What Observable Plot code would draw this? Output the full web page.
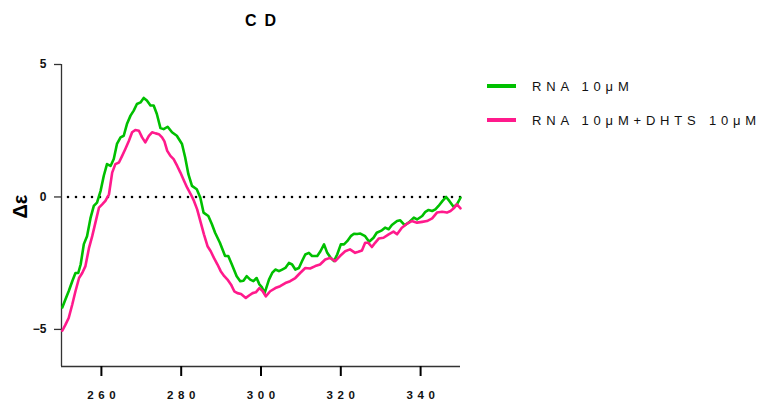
<!DOCTYPE html>
<html>
<head>
<meta charset="utf-8">
<script src="https://cdn.jsdelivr.net/npm/d3@7"></script>
<script src="https://cdn.jsdelivr.net/npm/@observablehq/plot@0.6"></script>
<style>
  html, body { margin: 0; padding: 0; background: #fff; }
  #wrap { position: relative; width: 760px; font-family: "Liberation Sans", Arial, sans-serif; }
  #title { position: absolute; z-index: 2; left: 0; width: 521px; top: 12px; text-align: center; font-weight: bold; font-size: 16px; letter-spacing: 8px; text-indent: 8px; color: #000; }
  .leg { position: absolute; z-index: 2; left: 487px; font-size: 13px; letter-spacing: 4.8px; color: #111; white-space: nowrap; }
  .leg .sw { position: absolute; left: 0; width: 29px; height: 3.5px; }
  .leg .tx { position: absolute; left: 45px; }
</style>
</head>
<body>
<div id="wrap"></div>
<script>
const seriesNames = ["RNA 10\u03bcM", "RNA 10\u03bcM+DHTS 10\u03bcM"];
const seriesColors = ["#00c000", "#ff1a8c"];
const xTicks = [260, 280, 300, 320, 340];
const yTicks = [-5, 0, 5];
const yLabel = "\u0394\u03b5";
const titleText = "CD";

const greenWl = [250.2,251,251.8,252.7,253.5,254.2,254.8,255.6,256.4,257.3,258.1,258.9,259.8,260.6,261.4,262.3,263.1,263.9,264.8,265.6,266.4,267.3,268.1,268.9,269.8,270.6,271.4,272.3,273.1,273.9,274.8,275.6,276.6,277.7,278.9,280.2,281,281.8,282.7,283.9,284.8,285.6,286.8,287.7,288.5,289.7,291,291.8,292.7,293.9,294.8,295.6,296.4,297.3,298.1,298.9,299.6,300.2,300.9,302,302.8,303.6,304.5,305.3,306.1,307,307.8,308.6,309.5,310.3,311.1,312,312.8,314.1,314.9,315.8,316.6,317.5,318.3,319.1,320,320.8,321.6,322.5,323.3,324.1,324.9,326.1,327.1,328.2,329,330.3,331.1,332,332.8,334.1,334.9,336,337,338.3,339.1,340.4,341.2,342,342.9,343.7,344.5,345.5,346.4,347.2,348.3,349.1,350];
const greenVal = [-4.17,-3.86,-3.56,-3.18,-2.87,-2.87,-2.55,-1.78,-1.48,-0.78,-0.34,-0.21,0.23,0.80,1.24,1.17,1.43,2.0,2.25,2.31,2.75,3.07,3.26,3.51,3.57,3.74,3.64,3.45,3.45,3.13,2.60,2.56,2.65,2.44,2.31,2.0,1.49,0.86,0.42,0.29,-0.03,-0.59,-0.72,-1.03,-1.35,-1.73,-2.23,-2.23,-2.55,-2.99,-3.18,-3.16,-2.99,-3.12,-3.18,-3.06,-3.30,-3.40,-3.63,-3.12,-2.87,-2.74,-2.80,-2.74,-2.68,-2.49,-2.55,-2.74,-2.68,-2.42,-2.17,-2.11,-2.23,-2.23,-2.05,-1.79,-2.11,-2.30,-2.42,-2.17,-1.79,-1.79,-1.67,-1.48,-1.39,-1.40,-1.38,-1.48,-1.69,-1.54,-1.35,-1.26,-1.16,-1.22,-1.06,-0.91,-0.88,-1.06,-0.97,-0.78,-0.85,-0.72,-0.56,-0.49,-0.53,-0.47,-0.34,-0.15,0.0,-0.15,-0.38,-0.28,-0.03];

const pinkWl = [250.2,251,251.8,252.7,253.5,254.4,255.2,256,256.9,257.7,258.5,259.4,260.2,261,261.9,262.7,263.5,264.4,265.2,266,266.9,267.7,268.5,269.4,270.2,271,271.9,272.7,273.6,274.4,275.2,275.8,276.5,277.3,278.1,279,279.8,280.7,281.5,282.4,283.2,284,284.9,285.7,286.6,287.4,288.2,289.1,289.9,290.8,291.6,292.5,293.3,294.1,295,296.2,297.1,297.9,298.7,299.6,300.4,301.2,302.3,303.6,304.8,306.1,307.3,308.6,309.8,311.1,312.3,313.6,314.8,316.1,317.3,318.6,319.8,321.1,322.3,323.6,324.4,325.3,326.1,326.9,327.8,328.6,329.5,330.7,332,333.2,334.1,335.3,336.6,337.8,339.1,340.4,341.6,342.9,344.1,345.4,346.6,347.5,348.3,349.1,350];
const pinkVal = [-5.05,-4.82,-4.57,-4.06,-3.56,-3.06,-2.87,-2.61,-1.92,-1.48,-0.97,-0.40,-0.28,-0.15,0.10,0.92,1.24,1.30,1.55,1.81,2.12,2.44,2.53,2.50,2.25,2.06,2.31,2.44,2.40,2.37,2.25,2.10,1.74,1.55,1.43,1.17,0.92,0.61,0.35,0.10,-0.15,-0.47,-0.97,-1.41,-1.86,-2.05,-2.30,-2.55,-2.80,-2.99,-3.12,-3.31,-3.56,-3.63,-3.66,-3.81,-3.71,-3.63,-3.60,-3.44,-3.55,-3.75,-3.56,-3.44,-3.37,-3.25,-3.18,-3.06,-2.87,-2.68,-2.70,-2.61,-2.55,-2.36,-2.30,-2.42,-2.23,-2.05,-1.98,-2.11,-2.07,-2.02,-1.73,-1.73,-1.89,-1.73,-1.57,-1.54,-1.41,-1.31,-1.41,-1.16,-1.01,-0.91,-0.97,-0.94,-0.91,-0.81,-0.59,-0.56,-0.59,-0.53,-0.43,-0.28,-0.43];

const green = greenWl.map((w, i) => ({wl: w, v: greenVal[i]}));
const pink = pinkWl.map((w, i) => ({wl: w, v: pinkVal[i]}));

const yDomain = [-6.4, 5];

const chart = Plot.plot({
  width: 760,
  height: 403,
  marginLeft: 61,
  marginRight: 300,
  marginTop: 64,
  marginBottom: 37,
  style: { fontFamily: "'Liberation Sans', Arial, sans-serif" },
  x: { domain: [250, 350] },
  y: { domain: yDomain },
  marks: [
    Plot.ruleX([250], { stroke: "#333", strokeWidth: 1.3 }),
    Plot.ruleY([yDomain[0]], { stroke: "#333", strokeWidth: 1.3 }),
    Plot.axisX({ ticks: xTicks, tickSize: 10, tickPadding: 14, label: null, fontSize: 11.5, fontWeight: "bold", stroke: "#000", strokeWidth: 2, fill: "#111", tickFormat: d => String(d).split("").join("\u2009\u2009") }),
    Plot.axisY({ ticks: yTicks, tickSize: 7, tickPadding: 8, label: null, fontSize: 12, fontWeight: "bold", stroke: "#333", strokeWidth: 1.3, fill: "#111" }),
    Plot.ruleY([0], { stroke: "#000", strokeWidth: 2.6, strokeDasharray: "0,8", strokeLinecap: "round", dx: 7 }),
    Plot.line(green, { x: "wl", y: "v", stroke: seriesColors[0], strokeWidth: 2.6, curve: "linear" }),
    Plot.line(pink, { x: "wl", y: "v", stroke: seriesColors[1], strokeWidth: 2.6, curve: "linear" }),
    Plot.text([yLabel], { frameAnchor: "left", dx: -41, dy: 3, rotate: -90, fontSize: 20, fontWeight: "bold", fill: "#000" })
  ]
});

const wrap = document.getElementById("wrap");
wrap.appendChild(chart);

const title = document.createElement("div");
title.id = "title";
title.textContent = titleText;
wrap.appendChild(title);

const legTops = [84, 118];
seriesNames.forEach((name, i) => {
  const d = document.createElement("div");
  d.className = "leg";
  d.style.top = legTops[i] + "px";
  const sw = document.createElement("div");
  sw.className = "sw";
  sw.style.background = seriesColors[i];
  const tx = document.createElement("div");
  tx.className = "tx";
  tx.style.top = "-5px";
  tx.textContent = name;
  d.appendChild(sw);
  d.appendChild(tx);
  wrap.appendChild(d);
});
</script>
</body>
</html>
